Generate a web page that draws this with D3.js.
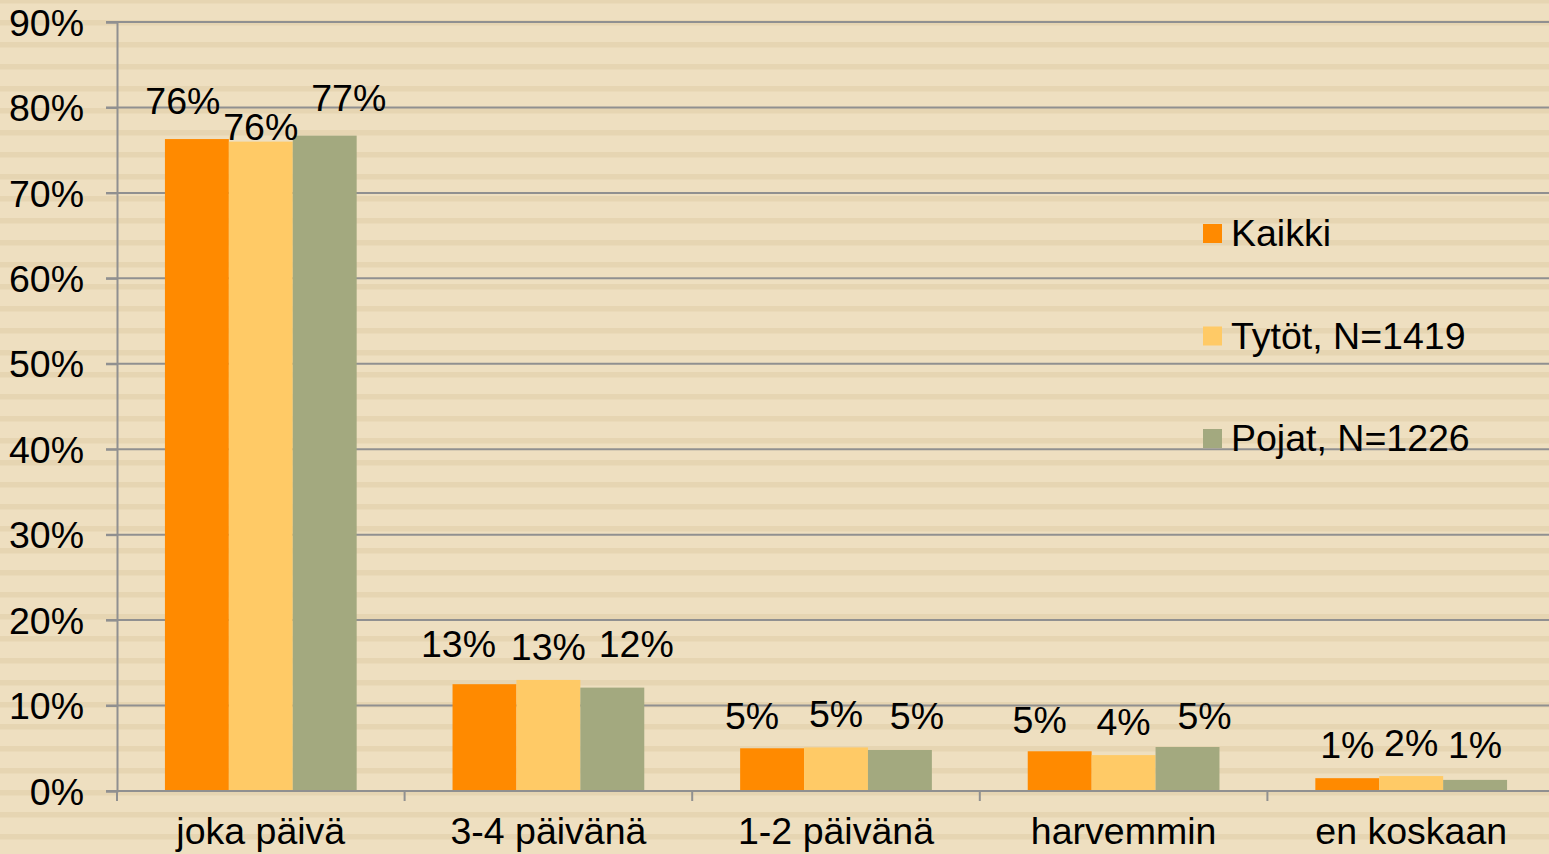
<!DOCTYPE html>
<html><head><meta charset="utf-8">
<script src="https://cdn.jsdelivr.net/npm/d3@7"></script>
<style>html,body{margin:0;padding:0;background:#EEDFC0;overflow:hidden}</style>
</head><body>
<svg id="c" width="1549" height="854"></svg>
<script>
const categories = ["joka päivä", "3-4 päivänä", "1-2 päivänä", "harvemmin", "en koskaan"];
const seriesNames = ["Kaikki", "Tytöt, N=1419", "Pojat, N=1226"];
const kaikki = [76.3, 12.5, 5.0, 4.65, 1.5];
const tytot  = [76.0, 13.0, 5.1, 4.2, 1.75];
const pojat  = [76.7, 12.1, 4.8, 5.15, 1.3];
const labelKaikki = ["76%", "13%", "5%", "5%", "1%"];
const labelTytot  = ["76%", "13%", "5%", "4%", "2%"];
const labelPojat  = ["77%", "12%", "5%", "5%", "1%"];
const yTicks = [0, 10, 20, 30, 40, 50, 60, 70, 80, 90];
const colors = ["#FF8A00", "#FFCA66", "#A3A97F"];

(function () {
const series = [
  {name: seriesNames[0], values: kaikki, labels: labelKaikki},
  {name: seriesNames[1], values: tytot, labels: labelTytot},
  {name: seriesNames[2], values: pojat, labels: labelPojat}
];

const svg = d3.select("#c");
const W = 1549, H = 854;
const mLeft = 117, mTop = 22, mBottom = 791;
const step = 287.6;
const mRight = mLeft + step * categories.length;
const FONT = "'Liberation Sans', Arial, sans-serif";
const FS = 37.5;

// background stripes
const defs = svg.append("defs");
const pat = defs.append("pattern").attr("id", "stripes").attr("patternUnits", "userSpaceOnUse")
  .attr("x", 0).attr("y", 20).attr("width", 40).attr("height", 22);
pat.append("rect").attr("width", 40).attr("height", 22).attr("fill", "#EEDFC0");
pat.append("rect").attr("width", 40).attr("height", 5.5).attr("fill", "#E6D5B2");
svg.append("rect").attr("width", W).attr("height", H).attr("fill", "url(#stripes)");

const y = d3.scaleLinear().domain([0, 90]).range([mBottom, mTop]);
const x0 = d3.scaleBand().domain(categories).range([mLeft, mRight]).padding(0);
const x1 = d3.scaleBand().domain(seriesNames).range([x0.bandwidth() / 6, x0.bandwidth() * 5 / 6]).padding(0);

// gridlines
svg.append("g").selectAll("line").data(yTicks).join("line")
  .attr("x1", mLeft - 11).attr("x2", W)
  .attr("y1", d => y(d)).attr("y2", d => y(d))
  .attr("stroke", "#909090").attr("stroke-width", 2);

// y axis
const yAxis = d3.axisLeft(y).tickValues(yTicks).tickFormat(d => d + "%").tickSize(11).tickPadding(22);
const gy = svg.append("g").attr("transform", `translate(${mLeft},0)`).call(yAxis);
gy.select(".domain").attr("stroke", "#909090").attr("stroke-width", 2);
gy.selectAll(".tick line").attr("stroke", "#909090").attr("stroke-width", 2);
gy.selectAll(".tick text").attr("font-family", FONT).attr("font-size", FS).attr("fill", "#000").attr("dy", "0.35em");

// bars
const groups = svg.append("g").selectAll("g").data(categories).join("g")
  .attr("transform", c => `translate(${x0(c)},0)`);
series.forEach((s, si) => {
  groups.append("rect")
    .attr("x", x1(s.name))
    .attr("width", x1.bandwidth())
    .attr("y", (c, i) => y(s.values[i]))
    .attr("height", (c, i) => mBottom - y(s.values[i]))
    .attr("fill", colors[si]);
});

// x axis
const xAxis = d3.axisBottom(x0).tickSize(0);
const gx = svg.append("g").attr("transform", `translate(0,${mBottom})`).call(xAxis);
gx.select(".domain").attr("stroke", "#909090").attr("stroke-width", 2).attr("d", `M${mLeft},0H${W}`);
gx.selectAll(".tick text").attr("font-family", FONT).attr("font-size", FS).attr("fill", "#000")
  .attr("dy", 0).attr("y", 53);
// category separators
svg.append("g").selectAll("line").data(d3.range(categories.length + 1)).join("line")
  .attr("x1", i => mLeft + i * x0.step()).attr("x2", i => mLeft + i * x0.step())
  .attr("y1", mBottom).attr("y2", mBottom + 10)
  .attr("stroke", "#909090").attr("stroke-width", 2);

// data labels with simple collision handling
const lab = svg.append("g").attr("font-family", FONT).attr("font-size", FS).attr("fill", "#000").attr("text-anchor", "middle");
categories.forEach((c, ci) => {
  const items = series.map((s, si) => ({
    text: s.labels[ci],
    cx: x0(c) + x1(s.name) + x1.bandwidth() / 2,
    top: y(s.values[ci]),
    v: s.values[ci],
    si
  }));
  const maxV = d3.max(items, it => it.v);
  const wide = d3.max(items, it => it.text.length) >= 3;
  const stagger = maxV > 50;
  const spread = maxV > 3;
  const midBase = items[1].top - 20;
  items.forEach(it => {
    let cx = it.cx, base;
    if (stagger) {
      if (it.si === 1) base = it.top - 2;
      else { base = it.top - 25; cx += (it.si === 0 ? -14 : 24); }
    } else {
      base = it.si === 1 ? midBase : Math.min(it.top - 18, midBase + (wide ? -3 : 2));
      if (spread && it.si === 0) cx -= wide ? 26 : 20;
      if (spread && it.si === 2) cx += wide ? 24 : 17;
    }
    lab.append("text").attr("x", cx).attr("y", base).text(it.text);
  });
});

// legend
const leg = svg.append("g").attr("transform", "translate(1203,233.5)");
series.forEach((s, si) => {
  const g = leg.append("g").attr("transform", `translate(0,${si * 102.5})`);
  g.append("rect").attr("x", 0).attr("y", -9.5).attr("width", 19).attr("height", 19).attr("fill", colors[si]);
  g.append("text").attr("x", 28).attr("y", 0).attr("dy", "0.34em")
    .attr("font-family", FONT).attr("font-size", FS).attr("fill", "#000").text(s.name);
});
})();
</script>
</body></html>
